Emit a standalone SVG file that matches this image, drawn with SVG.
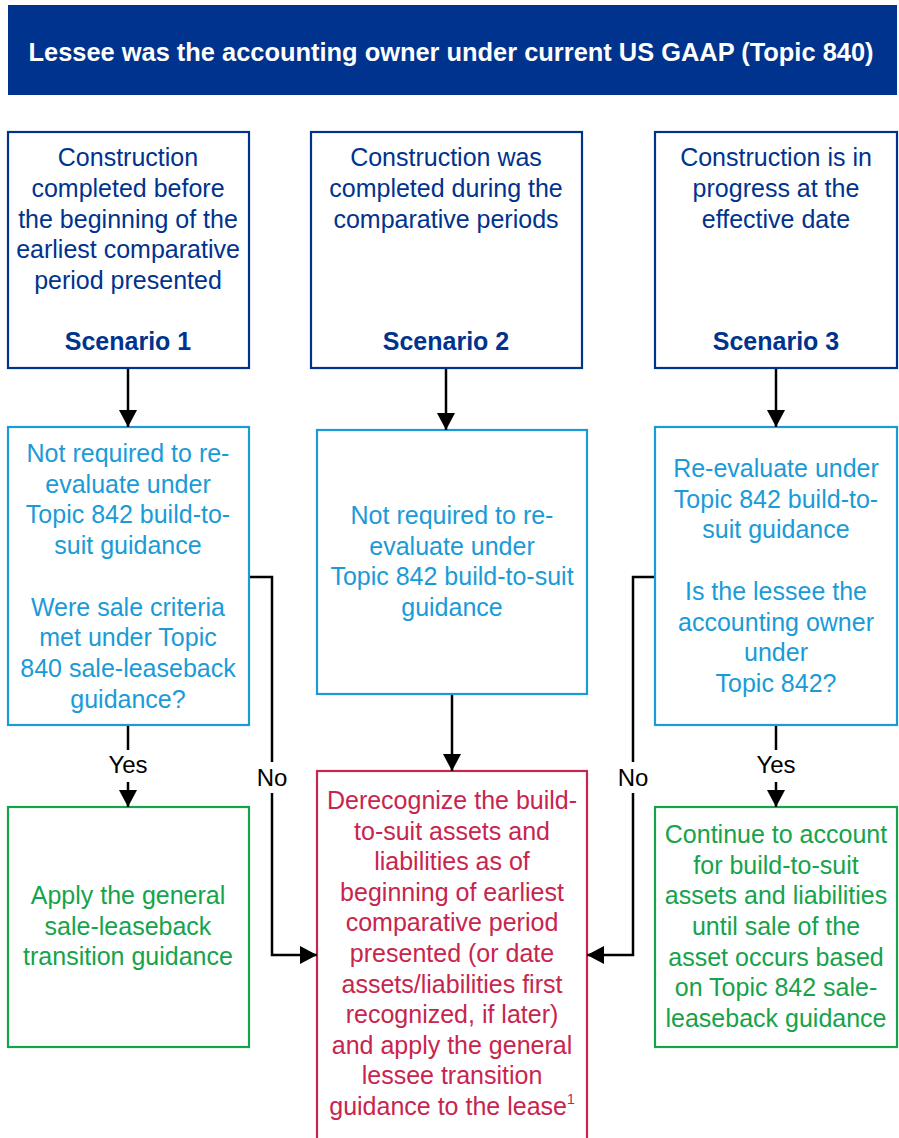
<svg xmlns="http://www.w3.org/2000/svg" width="899" height="1138" viewBox="0 0 899 1138">
<style>
text{font-family:"Liberation Sans",Arial,sans-serif;font-size:25px;text-anchor:middle}
.box{fill:#fff;stroke-width:2.2}
.dk{stroke:#00338D}.dkt{fill:#00338D}
.lb{stroke:#1A9BD7}.lbt{fill:#1A9BD7}
.gr{stroke:#16A34A}.grt{fill:#16A34A}
.rd{stroke:#C8254E}.rdt{fill:#C8254E}
.b{font-weight:bold}
.cn{fill:none;stroke:#000;stroke-width:2.5}
.lbl{fill:#000;font-size:24px}
</style>
<defs>
<marker id="ah" markerUnits="userSpaceOnUse" markerWidth="18" markerHeight="18" viewBox="0 0 18 18" refX="17" refY="9" orient="auto">
<path d="M0,0 L17,9 L0,18 Z" fill="#000"/>
</marker>
</defs>
<g id="header">
<rect x="8" y="5" width="889" height="90" fill="#00338D"/>
<text x="451" y="61" class="b" fill="#fff" font-size="25.5" textLength="845" lengthAdjust="spacingAndGlyphs">Lessee was the accounting owner under current US GAAP (Topic 840)</text>
</g>
<g id="scenario1">
<rect x="8" y="132" width="241" height="236" class="box dk"/>
<text class="dkt"><tspan x="128" y="166">Construction</tspan><tspan x="128" y="197">completed before</tspan><tspan x="128" y="228">the beginning of the</tspan><tspan x="128" y="258">earliest comparative</tspan><tspan x="128" y="289">period presented</tspan></text>
<text x="128" y="350" class="dkt b">Scenario 1</text>
</g>
<g id="scenario2">
<rect x="311" y="132" width="271" height="236" class="box dk"/>
<text class="dkt"><tspan x="446" y="166">Construction was</tspan><tspan x="446" y="197">completed during the</tspan><tspan x="446" y="228">comparative periods</tspan></text>
<text x="446" y="350" class="dkt b">Scenario 2</text>
</g>
<g id="scenario3">
<rect x="655" y="132" width="242" height="236" class="box dk"/>
<text class="dkt"><tspan x="776" y="166">Construction is in</tspan><tspan x="776" y="197">progress at the</tspan><tspan x="776" y="228">effective date</tspan></text>
<text x="776" y="350" class="dkt b">Scenario 3</text>
</g>
<g id="eval1">
<rect x="8" y="427" width="241" height="298" class="box lb"/>
<text class="lbt"><tspan x="128" y="462">Not required to re-</tspan><tspan x="128" y="493">evaluate under</tspan><tspan x="128" y="523">Topic 842 build-to-</tspan><tspan x="128" y="554">suit guidance</tspan><tspan x="128" y="616">Were sale criteria</tspan><tspan x="128" y="646">met under Topic</tspan><tspan x="128" y="677">840 sale-leaseback</tspan><tspan x="128" y="708">guidance?</tspan></text>
</g>
<g id="eval2">
<rect x="317" y="430" width="270" height="264" class="box lb"/>
<text class="lbt"><tspan x="452" y="524">Not required to re-</tspan><tspan x="452" y="555">evaluate under</tspan><tspan x="452" y="585">Topic 842 build-to-suit</tspan><tspan x="452" y="616">guidance</tspan></text>
</g>
<g id="eval3">
<rect x="655" y="427" width="242" height="298" class="box lb"/>
<text class="lbt"><tspan x="776" y="477">Re-evaluate under</tspan><tspan x="776" y="508">Topic 842 build-to-</tspan><tspan x="776" y="538">suit guidance</tspan><tspan x="776" y="600">Is the lessee the</tspan><tspan x="776" y="631">accounting owner</tspan><tspan x="776" y="661">under</tspan><tspan x="776" y="692">Topic 842?</tspan></text>
</g>
<g id="apply">
<rect x="8" y="807" width="241" height="240" class="box gr"/>
<text class="grt"><tspan x="128" y="904">Apply the general</tspan><tspan x="128" y="935">sale-leaseback</tspan><tspan x="128" y="965">transition guidance</tspan></text>
</g>
<g id="continue">
<rect x="655" y="807" width="242" height="240" class="box gr"/>
<text class="grt"><tspan x="776" y="843">Continue to account</tspan><tspan x="776" y="874">for build-to-suit</tspan><tspan x="776" y="904">assets and liabilities</tspan><tspan x="776" y="935">until sale of the</tspan><tspan x="776" y="966">asset occurs based</tspan><tspan x="776" y="996">on Topic 842 sale-</tspan><tspan x="776" y="1027">leaseback guidance</tspan></text>
</g>
<g id="derecognize">
<rect x="317" y="771" width="270" height="372" class="box rd"/>
<text class="rdt"><tspan x="452" y="809">Derecognize the build-</tspan><tspan x="452" y="840">to-suit assets and</tspan><tspan x="452" y="870">liabilities as of</tspan><tspan x="452" y="901">beginning of earliest</tspan><tspan x="452" y="931">comparative period</tspan><tspan x="452" y="962">presented (or date</tspan><tspan x="452" y="993">assets/liabilities first</tspan><tspan x="452" y="1023">recognized, if later)</tspan><tspan x="452" y="1054">and apply the general</tspan><tspan x="452" y="1084">lessee transition</tspan><tspan x="452" y="1115">guidance to the lease<tspan font-size="14" dy="-11">1</tspan></tspan></text>
</g>
<g id="connectors">
<line x1="128" y1="369" x2="128" y2="427" class="cn" marker-end="url(#ah)"/>
<line x1="446" y1="369" x2="446" y2="430" class="cn" marker-end="url(#ah)"/>
<line x1="776" y1="369" x2="776" y2="427" class="cn" marker-end="url(#ah)"/>
<line x1="452" y1="695" x2="452" y2="771" class="cn" marker-end="url(#ah)"/>
<line x1="128" y1="726" x2="128" y2="750" class="cn"/>
<line x1="128" y1="782" x2="128" y2="807" class="cn" marker-end="url(#ah)"/>
<text x="128" y="773" class="lbl">Yes</text>
<line x1="776" y1="726" x2="776" y2="750" class="cn"/>
<line x1="776" y1="782" x2="776" y2="807" class="cn" marker-end="url(#ah)"/>
<text x="776" y="773" class="lbl">Yes</text>
<polyline points="250,577 272,577 272,762" class="cn"/>
<polyline points="272,793 272,955 317,955" class="cn" marker-end="url(#ah)"/>
<text x="272" y="786" class="lbl">No</text>
<polyline points="654,577 633,577 633,762" class="cn"/>
<polyline points="633,793 633,955 587,955" class="cn" marker-end="url(#ah)"/>
<text x="633" y="786" class="lbl">No</text>
</g>
</svg>
